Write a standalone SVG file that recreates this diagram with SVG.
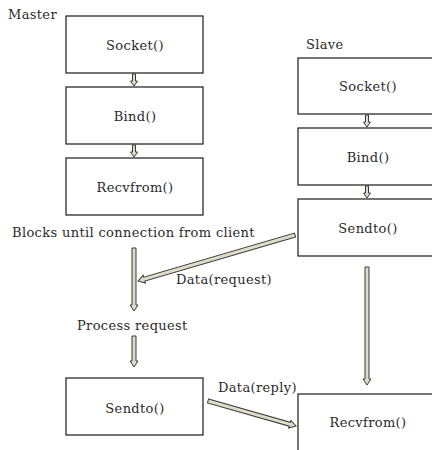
<svg xmlns="http://www.w3.org/2000/svg" width="432" height="450" viewBox="0 0 432 450">
  <style>
    .box { fill: #ffffff; stroke: #1a1a1a; stroke-width: 1.2; }
    .lbl { font-family: 'DejaVu Serif', 'Liberation Serif', serif; font-size: 13px; letter-spacing: 0.35px; fill: #2a2a2a; }
    .c { text-anchor: middle; }
    .arrow { fill: #dedcc8; stroke: #3a3a3a; stroke-width: 1; stroke-linejoin: miter; }
  </style>
  <rect width="432" height="450" fill="#ffffff"/>

  <!-- column titles -->
  <text class="lbl" x="8" y="19">Master</text>
  <text class="lbl" x="306" y="49">Slave</text>

  <!-- master column -->
  <g id="m-socket"><rect class="box" x="66" y="16" width="137" height="57"/><text class="lbl c" x="135" y="50">Socket()</text></g>
  <g id="m-bind"><rect class="box" x="66" y="87" width="137" height="57"/><text class="lbl c" x="135" y="121">Bind()</text></g>
  <g id="m-recvfrom"><rect class="box" x="66" y="158" width="137" height="57"/><text class="lbl c" x="135" y="192">Recvfrom()</text></g>
  <g id="m-blocks"><text class="lbl" x="12" y="237">Blocks until connection from client</text></g>
  <g id="m-process"><text class="lbl" x="77" y="330">Process request</text></g>
  <g id="m-sendto"><rect class="box" x="66" y="378" width="137" height="57"/><text class="lbl c" x="135" y="413">Sendto()</text></g>

  <!-- slave column -->
  <g id="s-socket"><rect class="box" x="298" y="58" width="150" height="56"/><text class="lbl c" x="368" y="91">Socket()</text></g>
  <g id="s-bind"><rect class="box" x="298" y="128" width="150" height="57"/><text class="lbl c" x="368" y="162">Bind()</text></g>
  <g id="s-sendto"><rect class="box" x="298" y="199" width="150" height="57"/><text class="lbl c" x="368" y="233">Sendto()</text></g>
  <g id="s-recvfrom"><rect class="box" x="298" y="394" width="150" height="70"/><text class="lbl c" x="368" y="427">Recvfrom()</text></g>

  <!-- connectors: hollow block arrows, drawn along +x then placed -->
  <g id="connectors">
    <!-- short step arrows -->
    <g transform="translate(134,74) rotate(90)"><polygon class="arrow" points="0,-1.5 7,-1.5 7,-3.5 12,0 7,3.5 7,1.5 0,1.5"/></g>
    <g transform="translate(134,145) rotate(90)"><polygon class="arrow" points="0,-1.5 7,-1.5 7,-3.5 12,0 7,3.5 7,1.5 0,1.5"/></g>
    <g transform="translate(367,115) rotate(90)"><polygon class="arrow" points="0,-1.5 7,-1.5 7,-3.5 12,0 7,3.5 7,1.5 0,1.5"/></g>
    <g transform="translate(367,186) rotate(90)"><polygon class="arrow" points="0,-1.5 7,-1.5 7,-3.5 12,0 7,3.5 7,1.5 0,1.5"/></g>

    <!-- master flow -->
    <g transform="translate(134,248) rotate(90)"><polygon class="arrow" points="0,-2 57,-2 57,-4 63,0 57,4 57,2 0,2"/></g>
    <g transform="translate(134,336) rotate(90)"><polygon class="arrow" points="0,-2 25,-2 25,-4 31,0 25,4 25,2 0,2"/></g>

    <!-- slave flow -->
    <g transform="translate(367,267) rotate(90)"><polygon class="arrow" points="0,-2 112,-2 112,-4 118,0 112,4 112,2 0,2"/></g>

    <!-- Data(request): slave Sendto -> master -->
    <g transform="translate(295,235) rotate(163.67)"><polygon class="arrow" points="0,-2 157,-2 157,-4 163.5,0 157,4 157,2 0,2"/></g>
    <!-- Data(reply): master Sendto -> slave Recvfrom -->
    <g transform="translate(208,401) rotate(15.86)"><polygon class="arrow" points="0,-2 85,-2 85,-4 91.5,0 85,4 85,2 0,2"/></g>
  </g>

  <!-- connector labels -->
  <text class="lbl" x="176" y="284">Data(request)</text>
  <text class="lbl" x="218" y="392">Data(reply)</text>
</svg>
